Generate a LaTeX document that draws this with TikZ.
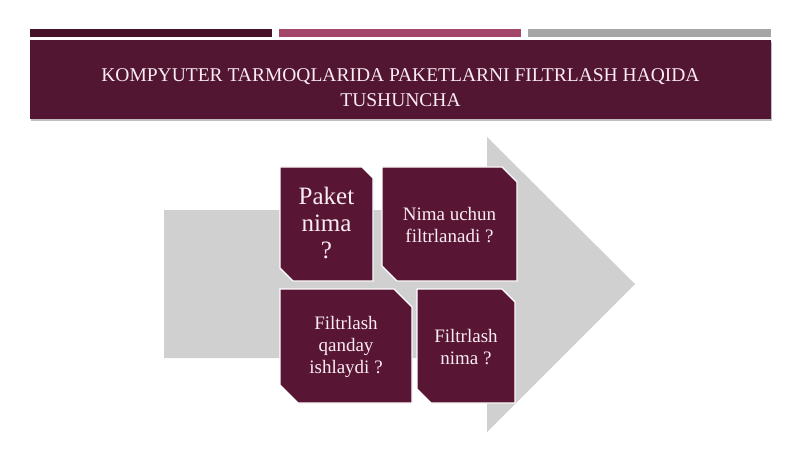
\documentclass[tikz,border=0pt]{standalone}
\usepackage{fontspec}
\setmainfont{Liberation Serif}
\definecolor{maroon}{RGB}{82,21,50}
\definecolor{boxmaroon}{RGB}{88,22,52}
\definecolor{darkbar}{RGB}{70,18,40}
\definecolor{rosebar}{RGB}{163,70,105}
\definecolor{greybar}{RGB}{166,166,166}
\definecolor{arrowgrey}{RGB}{208,208,208}
\definecolor{lighttext}{RGB}{250,236,242}
\tikzset{
  boxshape/.style={fill=boxmaroon, draw=white, line width=1.2pt},
  boxtext/.style={text=lighttext, align=center, font=\fontsize{19}{22}\selectfont, inner sep=0pt},
  bar/.style={draw=none}
}
\begin{document}
\begin{tikzpicture}[x=1pt,y=-1pt]
\useasboundingbox (0,0) rectangle (800,449);
\fill[white] (0,0) rectangle (800,449);
% top bars
\fill[darkbar] (30,29) rectangle (272,37);
\fill[rosebar] (279,29) rectangle (521,37);
\fill[greybar] (528,29) rectangle (771,37);
% title band
\fill[black!25] (31,42) rectangle (772,121);
\fill[maroon] (30,40) rectangle (771,119);
\node[text=lighttext, align=center, font=\fontsize{19.5}{25}\selectfont, inner sep=0pt] (title) at (400.5,88)
  {KOMPYUTER TARMOQLARIDA PAKETLARNI FILTRLASH HAQIDA\\TUSHUNCHA};
% big arrow
\fill[arrowgrey] (164,210) -- (487,210) -- (487,137) -- (635,284) -- (487,432) -- (487,358) -- (164,358) -- cycle;
% box 1
\path[boxshape] (280,167) -- (362,167) -- (373,178) -- (373,281) -- (293,281) -- (280,268) -- cycle;
\node[boxtext, font=\fontsize{25}{27}\selectfont] (b1) at (326.5,223) {Paket\\nima\\?};
% box 2
\path[boxshape] (382,167) -- (502,167) -- (517,182) -- (517,281) -- (397,281) -- (382,266) -- cycle;
\node[boxtext] (b2) at (449.5,225) {Nima uchun\\filtrlanadi ?};
% box 3
\path[boxshape] (280,289) -- (394,289) -- (412,307) -- (412,403) -- (298,403) -- (280,385) -- cycle;
\node[boxtext] (b3) at (346,347) {Filtrlash\\qanday\\ishlaydi ?};
% box 4
\path[boxshape] (417,289) -- (502,289) -- (515,302) -- (515,403) -- (431,403) -- (417,389) -- cycle;
\node[boxtext] (b4) at (466,347) {Filtrlash\\nima ?};
\end{tikzpicture}
\end{document}
